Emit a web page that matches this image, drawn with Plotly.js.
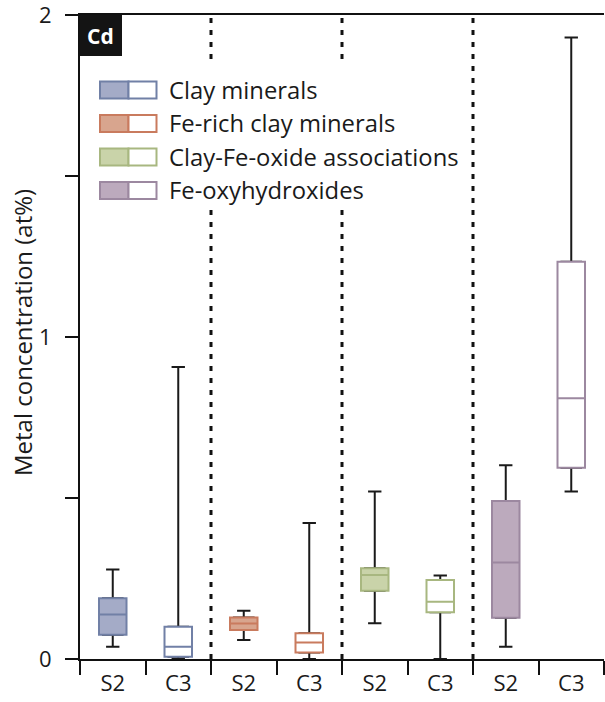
<!DOCTYPE html>
<html>
<head>
<meta charset="utf-8">
<script src="https://cdn.plot.ly/plotly-3.0.1.min.js"></script>
<style>
  html, body { margin: 0; padding: 0; background: #ffffff; }
  #chart { width: 605px; height: 702px; }
</style>
</head>
<body>
<div id="chart"></div>
<script>
// Cd concentration per phase group, for samples S2 and C3
const groups = ['Clay minerals', 'Fe-rich clay minerals', 'Clay-Fe-oxide associations', 'Fe-oxyhydroxides'];
const samples = ['S2', 'C3'];
const sampleLabels = ['S2', 'C3', 'S2', 'C3', 'S2', 'C3', 'S2', 'C3'];

// Box statistics (at%), one entry per group/sample pair in order
const lowerWhisker = [0.038, 0.000, 0.059, 0.000, 0.111, 0.000, 0.038, 0.520];
const q1           = [0.075, 0.007, 0.090, 0.020, 0.212, 0.145, 0.128, 0.594];
const median       = [0.138, 0.038, 0.110, 0.051, 0.261, 0.178, 0.300, 0.810];
const q3           = [0.189, 0.100, 0.129, 0.080, 0.282, 0.245, 0.491, 1.234];
const upperWhisker = [0.278, 0.907, 0.150, 0.422, 0.520, 0.259, 0.602, 1.930];

const yTickVals = [0, 0.5, 1, 1.5, 2];
const yTickText = ['0', '', '1', '', '2'];

const fillColors = ['#a4abc7', '#d8a58e', '#c9d3a9', '#bcaabd'];
const edgeColors = ['#7180a6', '#c97b5e', '#a8b780', '#9c88a0'];

const FONT = '"Open Sans", Lato, sans-serif';

// unique category keys; tick text shows the sample name only
const cats = [];
groups.forEach((g, gi) => samples.forEach(s => cats.push(g + ' ' + s)));

const traces = [];
// black whiskers with caps (box part sits underneath the coloured box)
cats.forEach((c, i) => {
  traces.push({
    type: 'box', x: [c],
    q1: [q1[i]], median: [median[i]], q3: [q3[i]],
    lowerfence: [lowerWhisker[i]], upperfence: [upperWhisker[i]],
    width: 0.3, whiskerwidth: 0.68,
    line: { color: '#1a1a1a', width: 2 },
    fillcolor: '#ffffff', boxpoints: false,
    showlegend: false, hoverinfo: 'skip'
  });
});
// coloured boxes: filled for S2, open for C3
cats.forEach((c, i) => {
  const gi = Math.floor(i / 2);
  const filled = (i % 2) === 0;
  traces.push({
    type: 'box', x: [c],
    q1: [q1[i]], median: [median[i]], q3: [q3[i]],
    lowerfence: [q1[i]], upperfence: [q3[i]],
    width: 0.42, whiskerwidth: 0,
    line: { color: edgeColors[gi], width: 2 },
    fillcolor: filled ? fillColors[gi] : '#ffffff', boxpoints: false,
    name: groups[gi] + ' ' + sampleLabels[i],
    showlegend: false
  });
});

const shapes = [];
const annotations = [];

// dotted separators between groups
[1.5, 3.5, 5.5].forEach(xv => {
  shapes.push({
    type: 'line', xref: 'x', yref: 'paper', x0: xv, x1: xv, y0: 0, y1: 1,
    line: { color: '#111111', width: 3, dash: '5px,7px' }, layer: 'below'
  });
});

// legend panel (pixel layout converted to paper units)
const L = 80, T = 15, W = 524, H = 644;
const px = x => (x - L) / W;
const py = y => 1 - (y - T) / H;

shapes.push({
  type: 'rect', xref: 'paper', yref: 'paper',
  x0: px(86), x1: px(468), y0: py(64), y1: py(210),
  fillcolor: '#ffffff', line: { width: 0 }, layer: 'below'
});

const rowY = [90, 123.5, 157, 190.5];
groups.forEach((g, gi) => {
  const yc = rowY[gi];
  shapes.push({
    type: 'rect', xref: 'paper', yref: 'paper',
    x0: px(100), x1: px(128.5), y0: py(yc - 8.5), y1: py(yc + 8.5),
    fillcolor: fillColors[gi], line: { color: edgeColors[gi], width: 2 }
  });
  shapes.push({
    type: 'rect', xref: 'paper', yref: 'paper',
    x0: px(128.5), x1: px(156.5), y0: py(yc - 8.5), y1: py(yc + 8.5),
    fillcolor: '#ffffff', line: { color: edgeColors[gi], width: 2 }
  });
  annotations.push({
    xref: 'paper', yref: 'paper', x: px(167), y: py(yc),
    xanchor: 'left', yanchor: 'middle', showarrow: false,
    text: g, font: { family: FONT, size: 23.8, color: '#1a1a1a' }
  });
});

// element tag in the corner
shapes.push({
  type: 'rect', xref: 'paper', yref: 'paper',
  x0: px(80), x1: px(122), y0: py(15), y1: py(56),
  fillcolor: '#141414', line: { width: 0 }
});
annotations.push({
  xref: 'paper', yref: 'paper', x: px(100.5), y: py(35.5),
  xanchor: 'center', yanchor: 'middle', showarrow: false,
  text: '<b>Cd</b>', font: { family: FONT, size: 21, color: '#ffffff' }
});

// y-axis title
annotations.push({
  xref: 'paper', yref: 'paper', x: px(22), y: py(333),
  xanchor: 'center', yanchor: 'middle', showarrow: false, textangle: -90,
  text: 'Metal concentration (at%)', font: { family: FONT, size: 24, color: '#1a1a1a' }
});

const layout = {
  width: 605, height: 702,
  margin: { l: 80, r: 1, t: 15, b: 43 },
  paper_bgcolor: '#ffffff', plot_bgcolor: '#ffffff',
  boxmode: 'overlay',
  showlegend: false,
  xaxis: {
    type: 'category', categoryorder: 'array', categoryarray: cats,
    range: [-0.5, 7.5],
    tickmode: 'array', tickvals: cats, ticktext: sampleLabels,
    tickson: 'boundaries', ticks: 'outside', ticklen: 14, tickwidth: 2, tickcolor: '#111111',
    ticklabelstandoff: 4,
    showline: true, linecolor: '#111111', linewidth: 2, mirror: true,
    showgrid: false, zeroline: false,
    tickfont: { family: FONT, size: 22, color: '#1a1a1a' }
  },
  yaxis: {
    range: [0, 2], tickmode: 'array', tickvals: yTickVals, ticktext: yTickText,
    ticks: 'outside', ticklen: 13, tickwidth: 2, tickcolor: '#111111',
    ticklabelstandoff: 9, ticklabeloverflow: 'allow',
    showline: true, linecolor: '#111111', linewidth: 2, mirror: false,
    showgrid: false, zeroline: false,
    tickfont: { family: FONT, size: 22, color: '#1a1a1a' }
  },
  shapes: shapes,
  annotations: annotations
};

Plotly.newPlot('chart', traces, layout, { staticPlot: true, displayModeBar: false });
</script>
</body>
</html>
